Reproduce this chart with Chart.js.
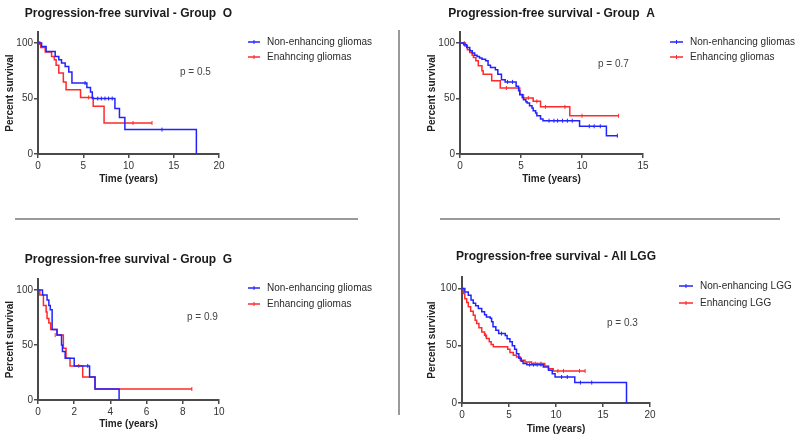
<!DOCTYPE html>
<html>
<head>
<meta charset="utf-8">
<script src="https://cdn.jsdelivr.net/npm/chart.js@4.4.1/dist/chart.umd.min.js"></script>
<style>
  html, body { margin: 0; padding: 0; background: #fff; }
  #wrap { position: relative; width: 800px; height: 440px; overflow: hidden; }
  #wrap canvas { position: absolute; }
  .rule { position: absolute; background: #9a9a9a; }
</style>
</head>
<body>
<div id="wrap">
  <canvas id="chartO" width="397" height="200" style="left:0;top:0"></canvas>
  <canvas id="chartA" width="400" height="200" style="left:400px;top:0"></canvas>
  <canvas id="chartG" width="397" height="220" style="left:0;top:220px"></canvas>
  <canvas id="chartL" width="400" height="220" style="left:400px;top:220px"></canvas>
  <div class="rule" style="left:15px;top:218px;width:343px;height:2px"></div>
  <div class="rule" style="left:440px;top:218px;width:340px;height:2px"></div>
  <div class="rule" style="left:398px;top:30px;width:2px;height:385px"></div>
</div>
<script>
// shared axis ticks
const yTicks = [0, 50, 100];

// Group O
const oXTicks = [0, 5, 10, 15, 20];
const oBlueT = [0, 0.4, 0.9, 1.9, 2.3, 2.6, 3.0, 3.4, 3.75, 5.4, 5.8, 6.0, 8.5, 9.0, 9.6, 17.5];
const oBlueS = [100, 97, 92.5, 88, 85, 82, 79, 74, 64, 60, 56, 50, 41, 33, 22, 0];
const oBlueCensT = [0.2, 5.2, 6.6, 7.0, 7.4, 7.8, 8.2, 13.7];
const oBlueCensS = [100, 64, 50, 50, 50, 50, 50, 22];
const oRedT = [0, 0.3, 0.8, 1.5, 1.8, 2.0, 2.3, 2.8, 3.1, 4.7, 6.1, 7.3, 12.6];
const oRedS = [100, 96, 92, 88, 85, 80, 73, 65, 58, 51, 43, 28, 28];
const oRedCensT = [5.6, 10.5, 12.6];
const oRedCensS = [51, 28, 28];

// Group A
const aXTicks = [0, 5, 10, 15];
const aBlueT = [0, 0.3, 0.55, 0.8, 1.0, 1.2, 1.4, 1.6, 1.8, 2.1, 2.3, 2.5, 2.9, 3.1, 3.4, 3.7, 4.6, 4.8, 4.9, 5.1, 5.2, 5.4, 5.5, 5.7, 5.9, 6.0, 6.2, 6.3, 6.6, 6.8, 9.8, 12.0, 12.9];
const aBlueS = [100, 98.5, 96, 93, 91, 89, 88, 86.5, 85.5, 84, 80, 78, 76, 72, 67, 65, 61, 57, 53.6, 51, 49, 47, 46, 43.5, 41.5, 39, 37, 34.5, 31.5, 30, 25, 16.5, 16.5];
const aBlueCensT = [0.4, 3.9, 4.3, 7.3, 7.7, 8.0, 8.4, 8.8, 9.2, 10.6, 11.0, 11.5, 12.9];
const aBlueCensS = [98.5, 65, 65, 30, 30, 30, 30, 30, 30, 25, 25, 25, 16.5];
const aRedT = [0, 0.45, 0.6, 0.8, 1.0, 1.1, 1.3, 1.5, 1.8, 1.9, 2.6, 3.3, 4.9, 5.2, 6.0, 6.6, 9.0, 13.0];
const aRedS = [100, 97.5, 94, 91.5, 89, 87, 84, 79.5, 75, 72, 66, 59.5, 53.5, 50.5, 47.5, 42.5, 34.5, 34.5];
const aRedCensT = [0.35, 3.8, 5.6, 6.3, 7.0, 8.6, 10.0, 13.0];
const aRedCensS = [100, 59.5, 50.5, 47.5, 42.5, 42.5, 34.5, 34.5];

// Group G
const gXTicks = [0, 2, 4, 6, 8, 10];
const gBlueT = [0, 0.25, 0.5, 0.6, 0.68, 0.78, 1.05, 1.3, 1.35, 1.5, 2.0, 2.85, 3.15, 4.48];
const gBlueS = [100, 95.5, 91, 86, 82, 64, 59, 50, 44, 38, 31, 21, 10, 0];
const gBlueCensT = [2.75];
const gBlueCensS = [31];
const gRedT = [0, 0.1, 0.3, 0.45, 0.5, 0.6, 0.7, 1.05, 1.4, 1.55, 1.77, 2.47, 3.15, 8.5];
const gRedS = [100, 95.5, 86, 80, 74, 70, 64, 59, 47, 38, 31, 21, 10, 10];
const gRedCensT = [0.95, 2.25, 8.5];
const gRedCensS = [59, 31, 10];

// All LGG
const lXTicks = [0, 5, 10, 15, 20];
const lBlueT = [0, 0.3, 0.67, 0.96, 1.2, 1.45, 1.74, 2.1, 2.4, 2.6, 3.0, 3.15, 3.3, 3.6, 3.9, 4.6, 4.8, 5.1, 5.35, 5.6, 5.8, 6.05, 6.3, 6.5, 6.9, 8.65, 9.2, 9.6, 9.9, 12.0, 17.5];
const lBlueS = [100, 97, 94, 90, 87, 85, 82.5, 79.6, 77, 75, 74, 71, 66.5, 63.5, 60.6, 59, 56, 53.4, 50, 47, 43, 39, 36.4, 34.4, 33.5, 31.5, 28.6, 25.6, 22.7, 17.8, 0];
const lBlueCensT = [4.2, 7.2, 7.6, 8.0, 8.4, 10.6, 11.2, 12.6, 13.8];
const lBlueCensS = [60.6, 33.5, 33.5, 33.5, 33.5, 22.7, 22.7, 17.8, 17.8];
const lRedT = [0, 0.14, 0.3, 0.5, 0.67, 0.92, 1.2, 1.4, 1.56, 1.8, 2.1, 2.4, 2.6, 2.9, 3.1, 3.33, 4.86, 5.1, 5.46, 5.8, 6.2, 6.7, 7.4, 8.8, 9.2, 9.7, 13.1];
const lRedS = [100, 95.6, 91, 87.8, 84, 80, 76.7, 72.3, 69.4, 65.6, 62, 59.2, 56.3, 53.4, 51, 49, 47, 44, 41.7, 40.2, 37.3, 35.9, 34.4, 32.4, 30, 28, 28];
const lRedCensT = [2.5, 7.8, 8.4, 10.2, 10.8, 12.5, 13.1];
const lRedCensS = [59.2, 34.4, 34.4, 28, 28, 28, 28];

Chart.defaults.font.family = '"Liberation Sans", Arial, Helvetica, sans-serif';
Chart.defaults.color = '#333';

const BLUE = '#2323ff';
const RED = '#ff2a2a';
const AXIS = '#4a4a4a';

function pts(T, S) {
    return T.map((t, i) => ({ x: t, y: S[i] }));
}

// panel title, legend entries and p value
const panelText = {
    id: 'panelText',
    afterDraw(chart, args, opts) {
        const ctx = chart.ctx;
        const area = chart.chartArea;
        ctx.save();
        ctx.textBaseline = 'middle';
        // title centred over the plot area
        ctx.font = 'bold 12px "Liberation Sans", Arial, sans-serif';
        ctx.textAlign = 'center';
        ctx.fillStyle = '#1a1a1a';
        ctx.fillText(opts.title, (area.left + area.right) / 2, opts.titleY);

        ctx.font = '10px "Liberation Sans", Arial, sans-serif';
        ctx.textAlign = 'left';
        [0, 1].forEach(i => {
            const ds = chart.data.datasets[i];
            const y = opts.legendY[i];
            const x0 = opts.legendX;
            const x1 = x0 + opts.legendLen;
            ctx.strokeStyle = ds.borderColor;
            ctx.lineWidth = 1.5;
            ctx.beginPath();
            ctx.moveTo(x0, y);
            ctx.lineTo(x1, y);
            ctx.stroke();
            ctx.lineWidth = 1;
            ctx.beginPath();
            ctx.moveTo((x0 + x1) / 2, y - 2);
            ctx.lineTo((x0 + x1) / 2, y + 2);
            ctx.stroke();
            ctx.fillStyle = '#2a2a2a';
            ctx.fillText(ds.label, x1 + 7, y);
        });
        ctx.fillStyle = '#444';
        ctx.fillText(opts.p, opts.pX, opts.pY);
        ctx.restore();
    }
};

function makePanel(id, p) {
    const xMax = p.xTicks[p.xTicks.length - 1];
    const lineDs = (label, T, S, color) => ({
        label: label, data: pts(T, S), borderColor: color, borderWidth: 1.5,
        stepped: 'before', tension: 0, pointRadius: 0, fill: false, clip: 4
    });
    const censDs = (T, S, color) => ({
        data: pts(T, S), showLine: false, pointStyle: 'line', rotation: 90,
        pointRadius: 2, borderColor: color, borderWidth: 1, clip: 4
    });
    new Chart(document.getElementById(id), {
        type: 'line',
        data: {
            datasets: [
                lineDs(p.labels[0], p.blue[0], p.blue[1], BLUE),
                lineDs(p.labels[1], p.red[0], p.red[1], RED),
                censDs(p.blueC[0], p.blueC[1], BLUE),
                censDs(p.redC[0], p.redC[1], RED)
            ]
        },
        options: {
            responsive: false,
            animation: false,
            events: [],
            layout: { padding: p.pad },
            plugins: {
                legend: { display: false },
                tooltip: { enabled: false },
                title: { display: false },
                panelText: p.text
            },
            scales: {
                x: {
                    type: 'linear', min: 0, max: xMax,
                    afterBuildTicks: s => { s.ticks = p.xTicks.map(v => ({ value: v })); },
                    afterFit: s => { s.height = p.xH; },
                    grid: { drawOnChartArea: false, drawTicks: true, tickLength: 4, color: AXIS, lineWidth: 1.5 },
                    border: { display: true, color: AXIS, width: 2 },
                    ticks: { font: { size: 10 }, color: '#333', padding: 2, maxRotation: 0 },
                    title: { display: true, text: 'Time (years)', color: '#222', font: { size: 10, weight: 'bold' }, padding: { top: 0, bottom: 0 } }
                },
                y: {
                    min: 0, max: 110,
                    afterBuildTicks: s => { s.ticks = yTicks.map(v => ({ value: v })); },
                    afterFit: s => { s.width = p.yW; },
                    grid: { drawOnChartArea: false, drawTicks: true, tickLength: 4, color: AXIS, lineWidth: 1.5 },
                    border: { display: true, color: AXIS, width: 2 },
                    ticks: { font: { size: 10 }, color: '#333', padding: 1 },
                    title: { display: true, text: 'Percent survival', color: '#222', font: { size: 10, weight: 'bold' }, padding: { top: 4, bottom: 0 } }
                }
            }
        },
        plugins: [panelText]
    });
}

makePanel('chartO', {
    labels: ['Non-enhancing gliomas', 'Enahncing gliomas'],
    xTicks: oXTicks,
    blue: [oBlueT, oBlueS], red: [oRedT, oRedS],
    blueC: [oBlueCensT, oBlueCensS], redC: [oRedCensT, oRedCensS],
    pad: { left: 0, top: 32, right: 178, bottom: 15 },
    xH: 31, yW: 38,
    text: { title: 'Progression-free survival - Group  O', titleY: 14,
            legendX: 248, legendLen: 12, legendY: [42, 57], p: 'p = 0.5', pX: 180, pY: 72 }
});

makePanel('chartA', {
    labels: ['Non-enhancing gliomas', 'Enhancing gliomas'],
    xTicks: aXTicks,
    blue: [aBlueT, aBlueS], red: [aRedT, aRedS],
    blueC: [aBlueCensT, aBlueCensS], redC: [aRedCensT, aRedCensS],
    pad: { left: 22, top: 32, right: 157, bottom: 15 },
    xH: 31, yW: 38,
    text: { title: 'Progression-free survival - Group  A', titleY: 14,
            legendX: 270, legendLen: 13, legendY: [42, 57], p: 'p = 0.7', pX: 198, pY: 64 }
});

makePanel('chartG', {
    labels: ['Non-enhancing gliomas', 'Enhancing gliomas'],
    xTicks: gXTicks,
    blue: [gBlueT, gBlueS], red: [gRedT, gRedS],
    blueC: [gBlueCensT, gBlueCensS], redC: [gRedCensT, gRedCensS],
    pad: { left: 0, top: 59, right: 178, bottom: 10 },
    xH: 30, yW: 38,
    text: { title: 'Progression-free survival - Group  G', titleY: 40,
            legendX: 248, legendLen: 12, legendY: [68, 84], p: 'p = 0.9', pX: 187, pY: 97 }
});

makePanel('chartL', {
    labels: ['Non-enhancing LGG', 'Enhancing LGG'],
    xTicks: lXTicks,
    blue: [lBlueT, lBlueS], red: [lRedT, lRedS],
    blueC: [lBlueCensT, lBlueCensS], redC: [lRedCensT, lRedCensS],
    pad: { left: 22.5, top: 57, right: 150, bottom: 5 },
    xH: 32, yW: 39.5,
    text: { title: 'Progression-free survival - All LGG', titleY: 37,
            legendX: 279, legendLen: 14, legendY: [66, 83], p: 'p = 0.3', pX: 207, pY: 103 }
});
</script>
</body>
</html>
